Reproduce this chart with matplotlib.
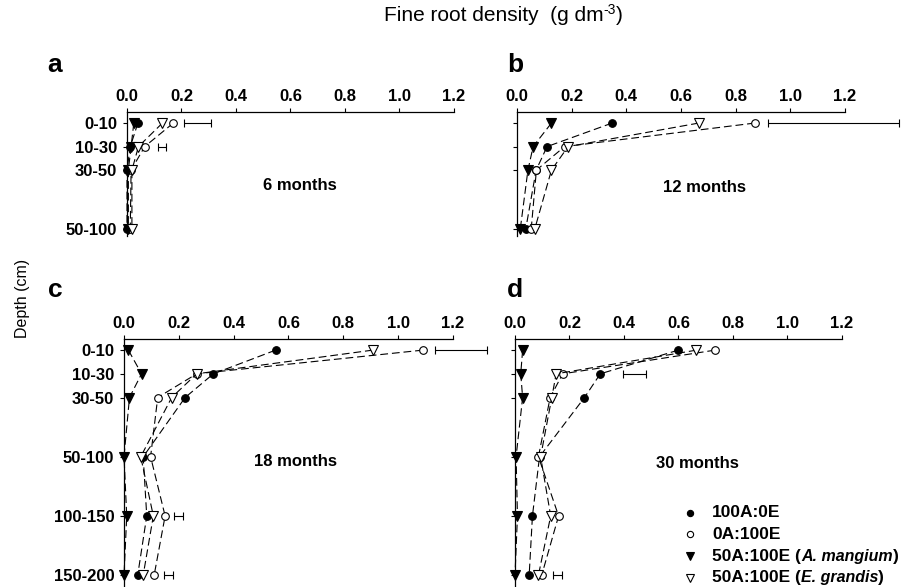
import matplotlib
matplotlib.use("Agg")
import matplotlib.pyplot as plt
from matplotlib.lines import Line2D
from matplotlib.offsetbox import (AnchoredOffsetbox, DrawingArea, HPacker,
                                  TextArea, VPacker)

plt.rcParams['font.family'] = ['Liberation Sans', 'DejaVu Sans']

# ---------------- data ----------------
depths_short = ["0-10", "10-30", "30-50", "50-100"]
depths_long = ["0-10", "10-30", "30-50", "50-100", "100-150", "150-200"]
depth_pos = [1, 2, 3, 5.5, 8, 10.5]

# legend labels: (plain part, italic part, closing part)
series_labels = [("100A:0E", "", ""),
                 ("0A:100E", "", ""),
                 ("50A:100E (", "A. mangium", ")"),
                 ("50A:100E (", "E. grandis", ")")]

# 6 months
m6_100A0E = [0.04, 0.012, 0.0, 0.0]
m6_0A100E = [0.17, 0.065, 0.015, 0.012]
m6_50A_mang = [0.025, 0.015, 0.005, 0.005]
m6_50A_gran = [0.13, 0.042, 0.018, 0.018]

# 12 months
m12_100A0E = [0.348, 0.11, 0.07, 0.032]
m12_0A100E = [0.87, 0.174, 0.071, 0.052]
m12_50A_mang = [0.126, 0.059, 0.04, 0.012]
m12_50A_gran = [0.665, 0.187, 0.126, 0.065]

# 18 months
m18_100A0E = [0.553, 0.326, 0.223, 0.07, 0.083, 0.05]
m18_0A100E = [1.09, 0.265, 0.123, 0.097, 0.15, 0.11]
m18_50A_mang = [0.016, 0.064, 0.02, 0.0, 0.01, 0.0]
m18_50A_gran = [0.907, 0.265, 0.174, 0.061, 0.107, 0.07]

# 30 months
m30_100A0E = [0.599, 0.313, 0.255, 0.09, 0.064, 0.052]
m30_0A100E = [0.734, 0.175, 0.129, 0.086, 0.16, 0.098]
m30_50A_mang = [0.028, 0.021, 0.028, 0.004, 0.009, 0.0]
m30_50A_gran = [0.666, 0.151, 0.135, 0.094, 0.131, 0.086]

# error bars (left, right, depth index)
err_6 = [(0.21, 0.309, 0), (0.113, 0.142, 1)]
err_12 = [(0.919, 1.399, 0)]
err_18 = [(1.135, 1.325, 0), (0.182, 0.215, 4), (0.146, 0.179, 5)]
err_30 = [(0.397, 0.481, 1), (0.14, 0.173, 5)]

xticks = [0.0, 0.2, 0.4, 0.6, 0.8, 1.0, 1.2]
xticklabels = ["0.0", "0.2", "0.4", "0.6", "0.8", "1.0", "1.2"]

# ---------------- figure ----------------
W, H = 912, 587
fig = plt.figure(figsize=(W / 100, H / 100), dpi=100)


def rect(l, t, r, b):
    return [l / W, 1 - b / H, (r - l) / W, (b - t) / H]


styles = [
    dict(marker='o', mfc='black', mec='black', ms=5.5),
    dict(marker='o', mfc='white', mec='black', ms=5.5),
    dict(marker='v', mfc='black', mec='black', ms=6.5),
    dict(marker='v', mfc='white', mec='black', ms=6.5),
]

panels = [
    dict(rect=rect(127, 112, 454, 236), data=[m6_100A0E, m6_0A100E, m6_50A_mang, m6_50A_gran],
         depths=depths_short, ylim=(5.8, 0.53), err=err_6, ylab=True, letter='a',
         month='6 months', mpos=(300, 186)),
    dict(rect=rect(517, 112, 845, 236), data=[m12_100A0E, m12_0A100E, m12_50A_mang, m12_50A_gran],
         depths=depths_short, ylim=(5.8, 0.53), err=err_12, ylab=False, letter='b',
         month='12 months', mpos=(705, 187)),
    dict(rect=rect(124, 339, 453, 587), data=[m18_100A0E, m18_0A100E, m18_50A_mang, m18_50A_gran],
         depths=depths_long, ylim=(11.0, 0.53), err=err_18, ylab=True, letter='c',
         month='18 months', mpos=(296, 462)),
    dict(rect=rect(515, 339, 842, 587), data=[m30_100A0E, m30_0A100E, m30_50A_mang, m30_50A_gran],
         depths=depths_long, ylim=(11.0, 0.53), err=err_30, ylab=False, letter='d',
         month='30 months', mpos=(697, 463)),
]

letter_pos = {'a': (55, 65), 'b': (515, 65), 'c': (55, 290), 'd': (515, 290)}

axes = []
for p in panels:
    ax = fig.add_axes(p['rect'])
    axes.append(ax)
    n = len(p['depths'])
    ys = depth_pos[:n]
    for vals, st in zip(p['data'], styles):
        ax.plot(vals, ys, color='black', lw=0.8, ls=(0, (7, 3.5)), mew=0.8,
                clip_on=False, zorder=3, **st)
    for l, r, di in p['err']:
        ax.errorbar([(l + r) / 2], [depth_pos[di]], xerr=[(r - l) / 2], fmt='none',
                    ecolor='black', elinewidth=0.8, capsize=3, capthick=0.8,
                    clip_on=False, zorder=2)
    ax.set_xlim(0, 1.2)
    ax.set_ylim(*p['ylim'])
    ax.set_xticks(xticks)
    ax.set_xticklabels(xticklabels, fontsize=12, fontweight='bold')
    ax.xaxis.tick_top()
    ax.tick_params(axis='x', direction='out', length=3, width=0.8, pad=3)
    ax.set_yticks(ys)
    if p['ylab']:
        ax.set_yticklabels(p['depths'], fontsize=12, fontweight='bold')
    else:
        ax.set_yticklabels([])
    ax.tick_params(axis='y', direction='out', length=3, width=0.8, pad=4)
    for s in ['right', 'bottom']:
        ax.spines[s].set_visible(False)
    for s in ['left', 'top']:
        ax.spines[s].set_linewidth(0.9)
    ax.patch.set_alpha(0)
    mx, my = p['mpos']
    fig.text(mx / W, 1 - my / H, p['month'], fontsize=12, fontweight='bold',
             ha='center', va='center')
    lx, ly = letter_pos[p['letter']]
    fig.text(lx / W, 1 - ly / H, p['letter'], fontsize=19, fontweight='bold',
             ha='center', va='center')

# title with a hyphen superscript, centred as a whole
renderer = fig.canvas.get_renderer()
base_y = 1 - 21 / H
t1 = fig.text(0, base_y, 'Fine root density  (g dm', fontsize=15, ha='left', va='baseline')
t2 = fig.text(0, base_y + 6.5 / H, '-3', fontsize=10, ha='left', va='baseline')
t3 = fig.text(0, base_y, ')', fontsize=15, ha='left', va='baseline')
w1 = t1.get_window_extent(renderer).width
w2 = t2.get_window_extent(renderer).width
w3 = t3.get_window_extent(renderer).width
x0 = 503.5 - (w1 + w2 + w3) / 2
t1.set_x(x0 / W)
t2.set_x((x0 + w1) / W)
t3.set_x((x0 + w1 + w2) / W)

fig.text(23 / W, 1 - 298 / H, 'Depth (cm)', fontsize=11.5, rotation=90,
         ha='center', va='center')

# legend (marker + mixed bold / bold-italic text)
leg_fs = 12.5
leg_fs_it = 11.5
rows = []
for st, (plain, ital, close) in zip(styles, series_labels):
    da = DrawingArea(10, 10, 0, 0)
    da.add_artist(Line2D([5], [5], ls='none', mew=0.8, **dict(st, ms=st['ms'] - 1.0)))
    parts = [TextArea(plain, textprops=dict(fontsize=leg_fs, fontweight='bold'))]
    if ital:
        parts.append(TextArea(ital, textprops=dict(fontsize=leg_fs_it, fontweight='bold',
                                                   fontstyle='italic')))
        parts.append(TextArea(close, textprops=dict(fontsize=leg_fs, fontweight='bold')))
    txt = HPacker(children=parts, align='baseline', pad=0, sep=0)
    rows.append(HPacker(children=[da, txt], align='center', pad=0, sep=11))
box = VPacker(children=rows, align='left', pad=0, sep=4.9)
anch = AnchoredOffsetbox(loc='upper left', child=box, pad=0, borderpad=0, frameon=False,
                         bbox_to_anchor=(683 / W, 1 - 505 / H),
                         bbox_transform=fig.transFigure)
axes[3].add_artist(anch)

fig.savefig('out.png', dpi=100)
